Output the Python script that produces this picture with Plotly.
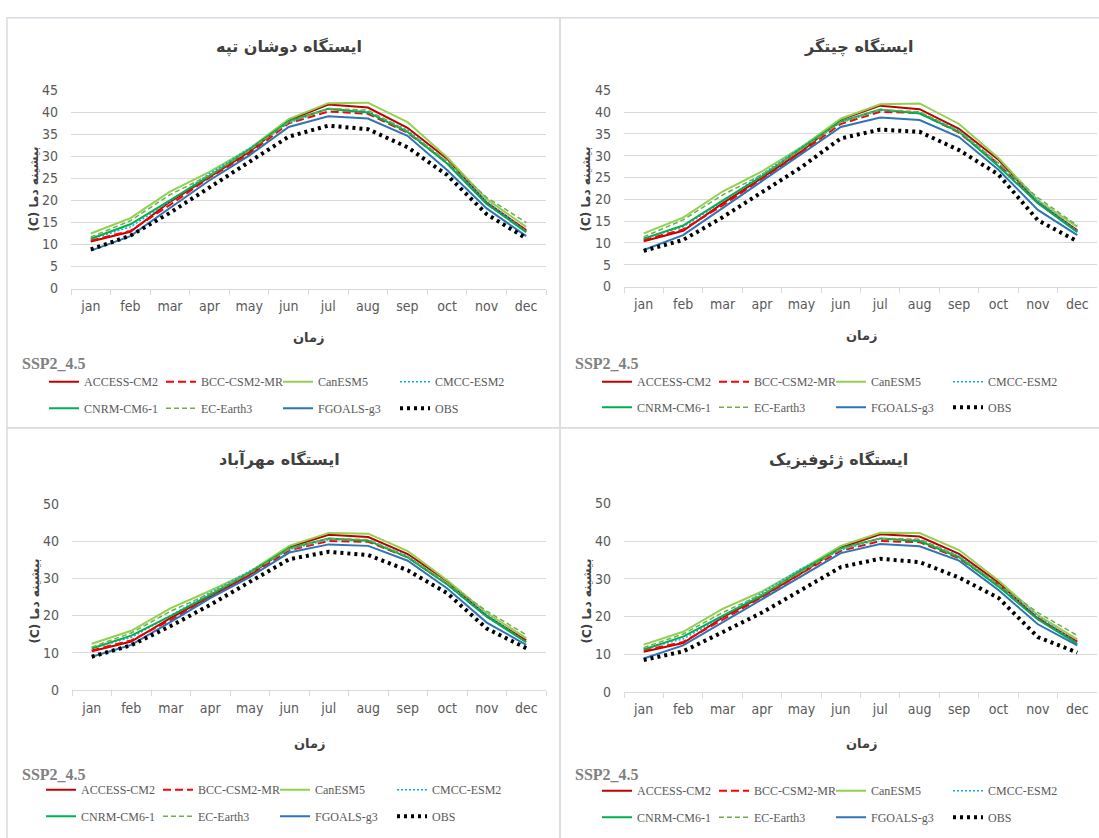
import plotly.graph_objects as go

W, H = 1099, 838

months = ["jan", "feb", "mar", "apr", "may", "jun", "jul", "aug", "sep", "oct", "nov", "dec"]
models = ["ACCESS-CM2", "BCC-CSM2-MR", "CanESM5", "CMCC-ESM2", "CNRM-CM6-1", "EC-Earth3", "FGOALS-g3", "OBS"]

# Station: Doshan Tappeh
dt_access = [10.7, 12.9, 19.7, 25.4, 31.0, 38.2, 41.8, 41.1, 36.5, 29.5, 19.5, 13.3]
dt_bcc    = [10.9, 13.1, 19.0, 25.2, 30.6, 37.5, 40.2, 39.7, 35.4, 28.6, 19.3, 13.1]
dt_can    = [12.5, 16.0, 22.0, 26.5, 31.7, 38.5, 42.1, 42.2, 37.8, 29.8, 20.3, 14.0]
dt_cmcc   = [11.2, 14.0, 19.8, 26.1, 31.8, 37.6, 40.8, 40.2, 36.0, 28.7, 19.8, 13.0]
dt_cnrm   = [11.3, 14.6, 20.0, 25.6, 31.5, 38.0, 40.8, 40.0, 35.6, 28.4, 19.2, 12.8]
dt_ec     = [11.7, 15.4, 21.3, 25.8, 31.3, 37.8, 40.9, 40.5, 35.8, 28.9, 20.7, 15.0]
dt_fgoals = [8.6, 11.9, 18.3, 24.6, 30.2, 36.7, 39.1, 38.6, 34.7, 26.9, 18.2, 11.9]
dt_obs    = [8.9, 12.0, 17.2, 23.0, 28.7, 34.5, 37.0, 36.2, 32.1, 25.8, 16.9, 11.4]

# Station: Chitgar
ch_access = [10.4, 12.8, 19.1, 24.9, 31.0, 38.3, 41.5, 40.7, 36.2, 29.1, 19.3, 12.9]
ch_bcc    = [10.7, 13.1, 18.6, 24.8, 30.8, 37.3, 40.1, 39.8, 35.3, 28.1, 19.2, 12.7]
ch_can    = [12.2, 15.8, 21.8, 26.4, 32.0, 38.5, 41.8, 42.0, 37.3, 29.5, 19.8, 13.7]
ch_cmcc   = [11.0, 13.7, 19.5, 25.7, 32.0, 37.6, 40.4, 40.0, 35.8, 28.3, 19.7, 12.8]
ch_cnrm   = [11.0, 14.0, 19.7, 25.3, 31.7, 37.9, 40.6, 39.7, 35.5, 27.6, 19.1, 12.5]
ch_ec     = [11.4, 15.3, 21.0, 25.7, 31.5, 37.7, 40.6, 40.1, 35.7, 28.3, 20.4, 14.0]
ch_fgoals = [8.4, 11.8, 18.0, 24.2, 30.2, 36.6, 38.8, 38.2, 34.3, 26.8, 17.6, 11.8]
ch_obs    = [8.2, 10.7, 15.9, 21.6, 27.4, 34.0, 36.0, 35.5, 31.3, 25.7, 15.2, 10.4]

# Station: Mehrabad
mb_access = [10.4, 13.0, 19.4, 25.3, 31.0, 38.5, 41.8, 41.2, 36.6, 29.3, 19.9, 13.3]
mb_bcc    = [10.6, 13.3, 18.8, 25.1, 30.7, 37.6, 40.1, 39.9, 35.7, 28.5, 19.8, 13.0]
mb_can    = [12.4, 15.9, 22.0, 26.7, 31.8, 38.8, 42.3, 42.1, 37.4, 29.5, 20.7, 13.9]
mb_cmcc   = [11.2, 14.1, 20.0, 26.2, 32.0, 37.8, 40.5, 40.3, 36.1, 28.6, 20.3, 12.8]
mb_cnrm   = [11.1, 14.6, 19.9, 25.6, 31.6, 38.2, 40.8, 40.2, 35.7, 28.4, 19.7, 12.8]
mb_ec     = [11.5, 15.3, 21.2, 26.0, 31.4, 38.0, 40.8, 40.5, 35.9, 28.8, 21.2, 14.8]
mb_fgoals = [8.9, 12.1, 18.3, 24.7, 30.4, 37.0, 39.2, 38.8, 34.8, 27.3, 18.1, 12.1]
mb_obs    = [8.9, 12.0, 17.2, 22.9, 29.1, 35.2, 37.2, 36.3, 32.2, 26.0, 16.5, 11.2]

# Station: Geophysics
gp_access = [10.6, 12.9, 19.7, 25.3, 31.5, 38.3, 41.8, 41.2, 36.6, 29.0, 19.4, 13.3]
gp_bcc    = [10.9, 13.2, 19.1, 25.1, 31.4, 37.4, 40.0, 39.7, 35.4, 28.4, 19.6, 13.0]
gp_can    = [12.5, 15.9, 22.0, 26.6, 32.5, 38.7, 42.2, 42.1, 37.6, 29.5, 20.3, 13.9]
gp_cmcc   = [11.3, 14.0, 19.9, 26.2, 32.7, 37.6, 40.5, 40.3, 36.1, 28.3, 20.1, 12.9]
gp_cnrm   = [11.2, 14.6, 20.1, 25.6, 32.2, 38.1, 40.7, 40.0, 35.7, 27.9, 19.2, 12.7]
gp_ec     = [11.7, 15.3, 21.0, 25.9, 31.8, 37.9, 40.7, 40.5, 35.9, 28.5, 21.0, 14.9]
gp_fgoals = [8.8, 12.3, 18.4, 24.6, 30.7, 36.8, 39.2, 38.6, 34.8, 27.0, 17.9, 12.3]
gp_obs    = [8.4, 10.7, 15.8, 21.0, 27.0, 33.1, 35.3, 34.4, 30.3, 24.9, 14.5, 10.4]

titles = ["ایستگاه دوشان تپه", "ایستگاه چیتگر", "ایستگاه مهرآباد", "ایستگاه ژئوفیزیک"]
scenario = "SSP2_4.5"
ytitle = "(C) بیشینه دما"
xtitle = "زمان"

stations = [
    [dt_access, dt_bcc, dt_can, dt_cmcc, dt_cnrm, dt_ec, dt_fgoals, dt_obs],
    [ch_access, ch_bcc, ch_can, ch_cmcc, ch_cnrm, ch_ec, ch_fgoals, ch_obs],
    [mb_access, mb_bcc, mb_can, mb_cmcc, mb_cnrm, mb_ec, mb_fgoals, mb_obs],
    [gp_access, gp_bcc, gp_can, gp_cmcc, gp_cnrm, gp_ec, gp_fgoals, gp_obs],
]

styles = [
    dict(color="#c00000", width=2, dash="solid"),
    dict(color="#ff0000", width=2, dash="8px,4px"),
    dict(color="#92d050", width=2, dash="solid"),
    dict(color="#00b0f0", width=1.5, dash="2px,2px"),
    dict(color="#00b050", width=2, dash="solid"),
    dict(color="#70ad47", width=1.5, dash="5px,3px"),
    dict(color="#2e75b6", width=2, dash="solid"),
    dict(color="#000000", width=4, dash="3px,4px"),
]

def px(x):
    return x / W

def py(y):
    return 1 - y / H

# panel geometry in pixels
panels = [
    dict(x0=71, x1=546, yt=84, yb=286, ymax=45, dtick=5,
         title=(289, 40), xt=(309, 336), yt_lab=(34, 185), ssp=(20, 362),
         leg=(44, 381, 408)),
    dict(x0=624, x1=1097, yt=84, yb=284, ymax=45, dtick=5,
         title=(858, 40), xt=(862, 334), yt_lab=(586, 185), ssp=(573, 362),
         leg=(597, 381, 407)),
    dict(x0=72, x1=546, yt=506, yb=695, ymax=50, dtick=10,
         title=(279, 460), xt=(310, 750), yt_lab=(35, 605), ssp=(20, 781),
         leg=(41, 797, 824)),
    dict(x0=624, x1=1097, yt=505, yb=697, ymax=50, dtick=10,
         title=(838, 460), xt=(862, 750), yt_lab=(587, 605), ssp=(573, 781),
         leg=(597, 798, 825)),
]

tick_font = dict(family="Liberation Sans Narrow, DejaVu Sans Condensed, Roboto, sans-serif", size=14, color="#595959")
leg_font = dict(family="Liberation Serif, DejaVu Serif, serif", size=12, color="#595959")

fig = go.Figure()
layout = dict(
    width=W, height=H,
    margin=dict(l=0, r=0, t=0, b=0),
    paper_bgcolor="white", plot_bgcolor="white",
    showlegend=True,
    annotations=[], shapes=[],
)

legend_idx = 0
for i, (p, series) in enumerate(zip(panels, stations)):
    ax = "" if i == 0 else str(i + 1)
    row_legends = []
    for r in range(2):
        legend_idx += 1
        lname = "legend" if legend_idx == 1 else f"legend{legend_idx}"
        row_legends.append(lname)
        layout[lname] = dict(
            orientation="h", x=px(p["leg"][0]), y=py(p["leg"][1 + r]),
            xanchor="left", yanchor="middle",
            font=leg_font, bgcolor="rgba(0,0,0,0)",
            entrywidth=72, entrywidthmode="pixels",
            itemwidth=30, traceorder="normal",
            itemclick=False, itemdoubleclick=False,
        )
    for k, (name, vals) in enumerate(zip(models, series)):
        fig.add_trace(go.Scatter(
            x=months, y=vals, mode="lines", name=name,
            line=styles[k],
            xaxis="x" + ax, yaxis="y" + ax,
            legend=row_legends[k // 4],
        ))
    layout["xaxis" + ax] = dict(
        domain=[px(p["x0"]), px(p["x1"])],
        anchor="y" + ax,
        type="category", categoryorder="array", categoryarray=months,
        range=[-0.5, 11.5],
        showgrid=False, zeroline=False,
        showline=True, linecolor="#d9d9d9", linewidth=1,
        ticks="outside", tickson="boundaries", ticklen=5, tickcolor="#d9d9d9",
        ticklabelstandoff=5,
        tickfont=tick_font, fixedrange=True,
    )
    layout["yaxis" + ax] = dict(
        domain=[py(p["yb"]), py(p["yt"])],
        anchor="x" + ax,
        range=[0, p["ymax"]], dtick=p["dtick"], tick0=0,
        showgrid=True, gridcolor="#d9d9d9", gridwidth=1,
        zeroline=False, showline=False, ticks="",
        ticklabelstandoff=12,
        tickfont=tick_font, fixedrange=True,
    )
    layout["annotations"].append(dict(
        text=f"<b>{titles[i]}</b>", x=px(p["title"][0]), y=py(p["title"][1]),
        xref="paper", yref="paper", showarrow=False, xanchor="center", yanchor="middle",
        font=dict(family="DejaVu Sans, Noto Sans, sans-serif", size=16, color="#404040"),
    ))
    layout["annotations"].append(dict(
        text=f"<b>{xtitle}</b>", x=px(p["xt"][0]), y=py(p["xt"][1]),
        xref="paper", yref="paper", showarrow=False, xanchor="center", yanchor="middle",
        font=dict(family="DejaVu Sans, Noto Sans, sans-serif", size=13, color="#404040"),
    ))
    layout["annotations"].append(dict(
        text=f"<b>{ytitle}</b>", x=px(p["yt_lab"][0]), y=py(p["yt_lab"][1]),
        xref="paper", yref="paper", showarrow=False, xanchor="center", yanchor="middle",
        textangle=-90,
        font=dict(family="DejaVu Sans, Noto Sans, sans-serif", size=12, color="#404040"),
    ))
    layout["annotations"].append(dict(
        text=f"<b>{scenario}</b>", x=px(p["ssp"][0]), y=py(p["ssp"][1]),
        xref="paper", yref="paper", showarrow=False, xanchor="left", yanchor="middle",
        font=dict(family="Liberation Serif, DejaVu Serif, serif", size=16, color="#808080"),
    ))

# panel frames
for (x0, y0, x1, y1) in [(7, 10, 560, 428), (560, 10, 1110, 428), (7, 428, 560, 850), (560, 428, 1110, 850)]:
    layout["shapes"].append(dict(
        type="rect", xref="paper", yref="paper",
        x0=px(x0), x1=px(x1), y0=py(y1), y1=py(y0),
        line=dict(color="#d9dce3", width=1.5), fillcolor="rgba(0,0,0,0)", layer="below",
    ))

fig.update_layout(**layout)
fig.write_html(
    "out.html",
    config={"displayModeBar": False},
    post_script="document.body.style.margin='0';document.body.style.overflow='hidden';",
)
